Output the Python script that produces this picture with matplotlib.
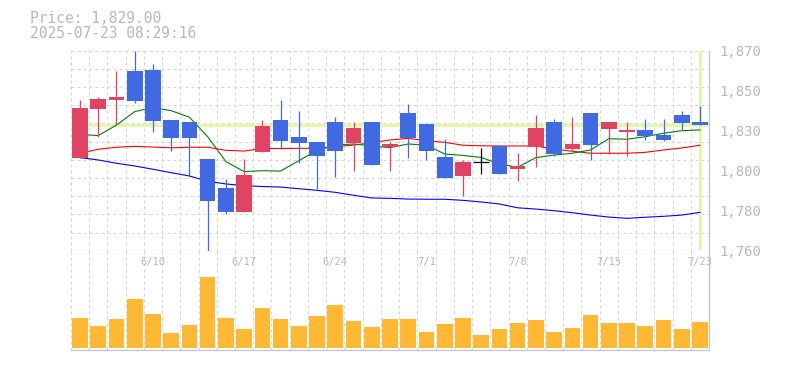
import matplotlib
matplotlib.use("Agg")
import matplotlib.pyplot as plt
import matplotlib.transforms as mtransforms
import numpy as np

# daily candles, 6/4 .. 7/23
dates = ["6/4", "6/5", "6/6", "6/9", "6/10", "6/11", "6/12", "6/13", "6/16",
         "6/17", "6/18", "6/19", "6/20", "6/23", "6/24", "6/25", "6/26",
         "6/27", "6/30", "7/1", "7/2", "7/3", "7/4", "7/7", "7/8", "7/9",
         "7/10", "7/11", "7/14", "7/15", "7/16", "7/17", "7/18", "7/22", "7/23"]
label_dates = ["6/10", "6/17", "6/24", "7/1", "7/8", "7/15", "7/23"]

opens = [1811.2, 1837.9, 1842.9, 1858.8, 1859.4, 1831.9, 1830.8, 1810.4, 1794.7,
         1781.3, 1814.5, 1831.9, 1822.5, 1819.8, 1830.8, 1819.1, 1830.8, 1817.2,
         1835.7, 1829.7, 1811.5, 1801.3, 1808.6, 1817.6, 1805.1, 1817.0, 1830.8,
         1815.9, 1835.7, 1827.1, 1825.5, 1826.4, 1823.6, 1834.6, 1830.8]
highs = [1842.9, 1844.7, 1858.8, 1869.8, 1862.7, 1831.9, 1830.8, 1810.4, 1799.4,
         1810.4, 1831.9, 1842.9, 1836.8, 1819.8, 1833.5, 1830.8, 1830.8, 1819.8,
         1840.7, 1829.7, 1821.4, 1809.9, 1816.3, 1817.6, 1813.7, 1834.6, 1832.4,
         1833.5, 1835.7, 1830.8, 1830.8, 1832.4, 1832.4, 1837.0, 1839.6]
lows = [1811.2, 1822.4, 1829.1, 1841.4, 1825.5, 1815.0, 1801.1, 1760.0, 1780.4,
        1781.3, 1814.5, 1816.1, 1808.4, 1794.1, 1800.4, 1804.0, 1807.3, 1804.0,
        1811.2, 1810.1, 1800.2, 1790.3, 1802.2, 1802.3, 1798.5, 1806.2, 1812.1,
        1814.8, 1810.1, 1813.4, 1812.1, 1820.9, 1820.3, 1826.4, 1829.0]
closes = [1838.5, 1843.4, 1844.5, 1842.3, 1831.5, 1822.2, 1822.2, 1787.5, 1781.3,
          1801.6, 1828.6, 1820.5, 1819.4, 1812.3, 1815.0, 1827.5, 1807.3, 1818.7,
          1822.2, 1815.0, 1800.2, 1808.8, 1808.6, 1802.3, 1806.8, 1827.5, 1813.4,
          1818.7, 1818.3, 1830.8, 1826.6, 1823.3, 1820.9, 1830.4, 1829.0]

# moving averages
ma_short = [1824.0, 1823.3, 1829.1, 1836.5, 1838.7, 1837.0, 1833.4, 1822.7, 1809.0,
            1803.5, 1804.0, 1803.8, 1809.5, 1815.2, 1818.1, 1818.7, 1817.6, 1816.7,
            1818.7, 1818.0, 1813.2, 1812.4, 1811.3, 1807.7, 1805.9, 1811.2, 1812.6,
            1813.6, 1815.4, 1821.6, 1821.3, 1822.7, 1824.6, 1826.0, 1826.4]
ma_mid = [1813.6, 1815.8, 1816.9, 1817.4, 1817.0, 1816.6, 1816.9, 1816.9, 1815.2,
          1814.8, 1816.2, 1816.2, 1816.3, 1816.3, 1817.2, 1818.1, 1819.4, 1820.9,
          1821.8, 1820.5, 1819.6, 1818.0, 1817.7, 1817.6, 1817.6, 1817.6, 1815.8,
          1814.7, 1813.6, 1813.6, 1813.6, 1814.1, 1815.4, 1816.5, 1818.0]
ma_long = [1811.2, 1809.9, 1808.1, 1806.6, 1804.8, 1802.9, 1801.1, 1798.2, 1796.7,
           1795.8, 1795.3, 1795.0, 1794.1, 1793.2, 1792.1, 1790.5, 1789.0, 1788.8,
           1788.4, 1788.3, 1788.3, 1787.7, 1786.8, 1785.7, 1783.6, 1782.9, 1782.0,
           1780.9, 1779.6, 1778.5, 1777.8, 1778.4, 1778.9, 1779.6, 1781.1]

volume = [30.3, 22.3, 29.3, 49.3, 34.3, 15.3, 23.3, 71.3, 30.3, 19.3, 40.3, 29.3,
          22.3, 32.3, 43.3, 27.3, 21.3, 29.3, 29.3, 16.3, 24.3, 30.3, 13.3, 19.3,
          25.3, 28.3, 16.3, 20.3, 33.3, 25.3, 25.3, 22.3, 28.3, 19.3, 26.3]

price_ticks = [1760, 1782, 1804, 1826, 1848, 1870]
price_labels = ["1,760", "1,780", "1,800", "1,830", "1,850", "1,870"]
last_price = 1829.0
header = ["Price: 1,829.00", "2025-07-23 08:29:16"]

MONO = "DejaVu Sans Mono"
TXT = "#b8b8b8"
GRID = "#d6d6d6"
SPINE = "#c4c4c4"
UP, DOWN, FLAT = "#e04462", "#4169e1", "#000000"
HIL = "#e4f5b0"

W, H = 785, 370
fig = plt.figure(figsize=(W / 100, H / 100), dpi=100)
x0, x1 = 70.9, 709.1
ax = fig.add_axes([x0 / W, (H - 250.7) / H, (x1 - x0) / W, 200 / H])
axv = fig.add_axes([x0 / W, (H - 350) / H, (x1 - x0) / W, 99.3 / H])

n = len(dates)
x = np.arange(n)
o, h, l, c = map(np.array, (opens, highs, lows, closes))
cols = [UP if cc > oo else DOWN if cc < oo else FLAT for oo, cc in zip(o, c)]

for a in (ax, axv):
    a.set_xlim(-0.5, n - 0.5)
    for b in np.arange(n + 1) - 0.5:
        a.axvline(b, color=GRID, lw=0.72, ls=(0, (3, 3)), zorder=0)
    for s in ("top", "left"):
        a.spines[s].set_visible(False)
    for s in ("bottom", "right"):
        a.spines[s].set_color(SPINE)
        a.spines[s].set_linewidth(0.9)
    a.set_xticks([])

# price panel
ax.set_ylim(1760, 1870)
for v in np.arange(1760, 1871, 10):
    ax.axhline(v, color=GRID, lw=0.72, ls=(0, (3, 3)), zorder=0)
ax.axhline(last_price, color=HIL, lw=2.4, zorder=1)
ax.axvline(x[-1], ymin=0.012, ymax=1, color=HIL, lw=2.2, zorder=1)

ax.plot(x, ma_long, color="#0000ff", lw=0.8, zorder=2)
ax.plot(x, ma_mid, color="#ff0000", lw=0.8, zorder=2)
ax.plot(x, ma_short, color="#008000", lw=0.8, zorder=2)

ax.vlines(x, l, h, colors=cols, lw=0.9, zorder=3)
body = np.abs(c - o)
ax.bar(x, body, bottom=np.minimum(o, c), width=0.86, color=cols,
       linewidth=0, zorder=4)
flat = body == 0
ax.hlines(o[flat], x[flat] - 0.44, x[flat] + 0.44, colors=FLAT, lw=0.9, zorder=4)

ax.yaxis.tick_right()
ax.set_yticks(price_ticks)
ax.set_yticklabels(price_labels, family=MONO, fontsize=10, color=TXT)
ax.tick_params(axis="y", length=0, pad=7)

# volume panel
axv.set_ylim(-1.7, 97.6)
axv.set_yticks([])
axv.bar(x, volume, width=0.86, color="#ffb833", linewidth=0, zorder=2)
tr = mtransforms.blended_transform_factory(axv.transData, axv.transAxes)
for d in label_dates:
    axv.text(dates.index(d), 0.885, d, transform=tr, ha="center", va="center",
             family=MONO, fontsize=7.5, color=TXT, zorder=3)

fig.text(30 / W, 1 - 22.7 / H, header[0], family=MONO, fontsize=10.5, color=TXT)
fig.text(30 / W, 1 - 37.7 / H, header[1], family=MONO, fontsize=10.5, color=TXT)

fig.savefig("out.png", dpi=100)
